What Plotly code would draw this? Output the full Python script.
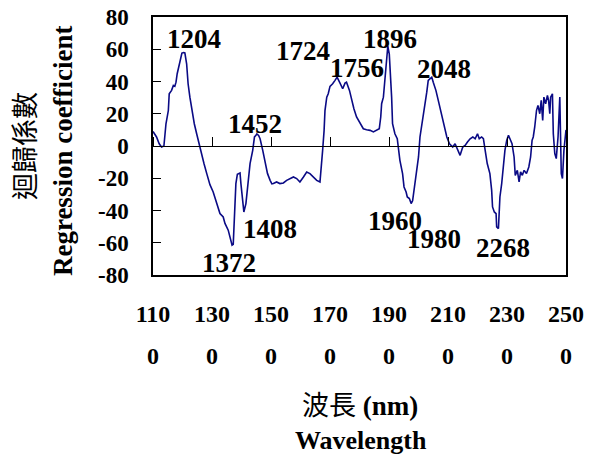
import plotly.graph_objects as go

wavelength = [1100, 1112, 1121, 1129, 1137, 1144, 1152, 1155, 1163, 1169, 1174, 1178, 1182, 1189, 1194, 1198,
              1204, 1208, 1214, 1219, 1225, 1233, 1240, 1248, 1257, 1265, 1273, 1282, 1293, 1304, 1316, 1327,
              1338, 1344, 1355, 1363, 1368, 1372, 1375, 1378, 1381, 1386, 1395, 1398, 1404, 1408, 1415, 1423,
              1429, 1438, 1444, 1449, 1452, 1458, 1463, 1472, 1480, 1488, 1497, 1503, 1508, 1519, 1530, 1542,
              1553, 1564, 1576, 1587, 1598, 1610, 1621, 1632, 1643, 1655, 1666, 1670, 1675, 1680, 1683, 1689,
              1694, 1700, 1709, 1717, 1724, 1734, 1743, 1751, 1756, 1766, 1773, 1781, 1790, 1802, 1813, 1824,
              1836, 1847, 1858, 1867, 1872, 1875, 1881, 1887, 1892, 1896, 1901, 1905, 1909, 1912, 1920, 1928,
              1932, 1937, 1946, 1951, 1958, 1962, 1969, 1975, 1980, 1985, 1992, 2000, 2005, 2014, 2022, 2028,
              2033, 2039, 2045, 2050, 2059, 2067, 2075, 2082, 2088, 2096, 2105, 2112, 2116, 2124, 2132, 2141,
              2150, 2158, 2166, 2175, 2184, 2192, 2200, 2206, 2214, 2220, 2226, 2233, 2242, 2248, 2251, 2257,
              2263, 2265, 2271, 2276, 2282, 2288, 2293, 2299, 2305, 2310, 2317, 2324, 2328, 2335, 2341, 2346,
              2352, 2358, 2366, 2374, 2380, 2385, 2389, 2394, 2400, 2405, 2411, 2416, 2421, 2425, 2431, 2437,
              2441, 2445, 2448, 2454, 2457, 2462, 2467, 2473, 2479, 2482, 2484, 2488, 2493, 2500]
coefficient = [9, 5.6, 1.4, -0.6, 0, 13.8, 22, 32.4, 34.5, 37.6, 37, 39.6, 44.8, 50, 53, 57.6,
               58, 57.8, 51, 38.6, 30.3, 20, 13.8, 7.6, 0.4, -4.7, -11, -17, -24, -28.5, -35.7, -41.9,
               -44, -48, -52.2, -58.4, -61.5, -61, -50, -37.8, -23.3, -17.5, -16.7, -23.3, -35.7, -40.9, -35.7, -19.2,
               -10.9, -2.7, 5.6, 6.6, 7.5, 6.5, 4.5, -2.7, -10.9, -17, -21.3, -23.5, -23.3, -22.3, -23.3, -22.9,
               -21.3, -20.2, -19.2, -20.2, -22.3, -19.2, -16.1, -17.1, -19.2, -21.3, -22.3, -15, -2.7, 9.7, 22, 30.3,
               32.4, 37, 38.6, 40.7, 42.7, 39, 35.5, 39, 39.6, 34.5, 28.3, 23.1, 18, 13.8, 10.7, 10.1,
               9.7, 8.7, 9.7, 10.7, 18, 26.2, 30.3, 42.7, 55.1, 62, 57, 45, 30, 13.8, 7.6, 4.5,
               -2.7, -8.9, -17.1, -25.4, -28.5, -31.6, -32.6, -35.7, -34, -27.5, -19.2, -6.8, 5.6, 15.9, 26.2, 33.4,
               40.7, 41.7, 42.7, 39.6, 34.5, 28.3, 22.1, 16.9, 11.8, 5.6, 1.4, 0.4, -0.6, 1.4, -1.7, -5.8,
               -0.6, 0.4, 2.5, 4.5, 5.6, 4.5, 7.6, 4.5, 5.6, 4.5, -2.7, -10.9, -17.1, -27.5, -37.8, -40.9,
               -41.9, -50.2, -51.2, -31.6, -23.3, -10.9, -2.7, 3.5, 6.6, 4.5, 1.4, -6.8, -18.2, -15.1, -22.3, -16.1,
               -18.2, -15.1, -17.1, -13, -6.8, 3.5, 5.6, 11.8, 22, 25.2, 20, 28.3, 15.9, 30.3, 26.2, 31.4,
               28.3, 20, 30.3, 32.4, 7.6, -4.7, -7.8, 5.6, 30.3, 1.4, -17.1, -20.2, -2.7, 10]

peak_labels = ["1204", "1452", "1408", "1372", "1724", "1756", "1896", "2048", "1960", "1980", "2268"]
label_x = [1240, 1446, 1495, 1359, 1608, 1790, 1902, 2086, 1920, 2052, 2288]
label_y = [66.5, 13.5, -51.2, -72.3, 59, 48.5, 66.5, 47.6, -46.2, -57.9, -63]

x_ticks = [1100, 1300, 1500, 1700, 1900, 2100, 2300, 2500]
y_ticks = [-80, -60, -40, -20, 0, 20, 40, 60, 80]

SERIF = "Liberation Serif, Times New Roman, serif"
CJK = "Liberation Serif, Noto Sans CJK TC, serif"

fig = go.Figure()
fig.add_trace(go.Scatter(x=wavelength, y=coefficient, mode="lines",
                         line=dict(color="#0a0a85", width=1.6), showlegend=False,
                         hoverinfo="skip"))
# helper traces so the secondary x axes (zero-line ticks, second row of labels) are drawn
for ax in ["x2", "x3"]:
    fig.add_trace(go.Scatter(x=x_ticks, y=[None] * len(x_ticks), xaxis=ax, yaxis="y",
                             mode="lines", showlegend=False, hoverinfo="skip"))

for t, lx, ly in zip(peak_labels, label_x, label_y):
    fig.add_annotation(x=lx, y=ly, xref="x", yref="y", text="<b>%s</b>" % t, showarrow=False,
                       xanchor="center", yanchor="middle",
                       font=dict(family=SERIF, size=27, color="black"))

fig.add_annotation(x=-0.315, y=0.5, xref="paper", yref="paper", text="迴歸係數", textangle=-90,
                   showarrow=False, xanchor="center", yanchor="middle",
                   font=dict(family="Noto Sans CJK TC", size=27, color="black"))
fig.add_annotation(x=-0.218, y=0.484, xref="paper", yref="paper", text="<b>Regression coefficient</b>",
                   textangle=-90, showarrow=False, xanchor="center", yanchor="middle",
                   font=dict(family=SERIF, size=27, color="black"))
fig.add_annotation(x=0.501, y=-0.508, xref="paper", yref="paper", text="波長 <b>(nm)</b>",
                   showarrow=False, xanchor="center", yanchor="middle",
                   font=dict(family=CJK, size=27, color="black"))
fig.add_annotation(x=0.503, y=-0.642, xref="paper", yref="paper", text="<b>Wavelength</b>",
                   showarrow=False, xanchor="center", yanchor="middle",
                   font=dict(family=SERIF, size=26, color="black"))

tick_top = ["<b>%s</b>" % str(v)[:3] for v in x_ticks]
tick_bot = ["<b>%s</b>" % str(v)[3:] for v in x_ticks]

fig.update_layout(
    width=589, height=459,
    margin=dict(l=153, r=23, t=17, b=184),
    paper_bgcolor="white", plot_bgcolor="white",
    xaxis=dict(range=[1100, 2500], showline=True, mirror=True, linecolor="black", linewidth=1.5,
               showgrid=False, zeroline=False, ticks="", tickmode="array", tickvals=x_ticks,
               ticktext=tick_top, tickfont=dict(family=SERIF, size=24, color="black"),
               ticklabelstandoff=16, automargin=False),
    xaxis3=dict(range=[1100, 2500], overlaying="x", anchor="y", side="bottom", showline=False,
                showgrid=False, zeroline=False, ticks="", tickmode="array", tickvals=x_ticks,
                ticktext=tick_bot, tickfont=dict(family=SERIF, size=24, color="black"),
                ticklabelstandoff=64, automargin=False),
    xaxis2=dict(range=[1100, 2500], overlaying="x", anchor="free", position=0.5, side="top",
                showline=True, linecolor="black", linewidth=1.2, showgrid=False, zeroline=False,
                ticks="outside", ticklen=9, tickcolor="black", tickwidth=1, tickmode="array",
                tickvals=x_ticks, showticklabels=False, automargin=False),
    yaxis=dict(range=[-80, 80], showline=True, mirror=True, linecolor="black", linewidth=1.5,
               showgrid=False, zeroline=False, ticks="inside", ticklen=8, tickcolor="black",
               tickmode="array", tickvals=y_ticks, ticktext=["<b>%d</b>" % v for v in y_ticks],
               tickfont=dict(family=SERIF, size=23, color="black"), ticklabelstandoff=18,
               automargin=False),
)

fig.write_html("out.html")
